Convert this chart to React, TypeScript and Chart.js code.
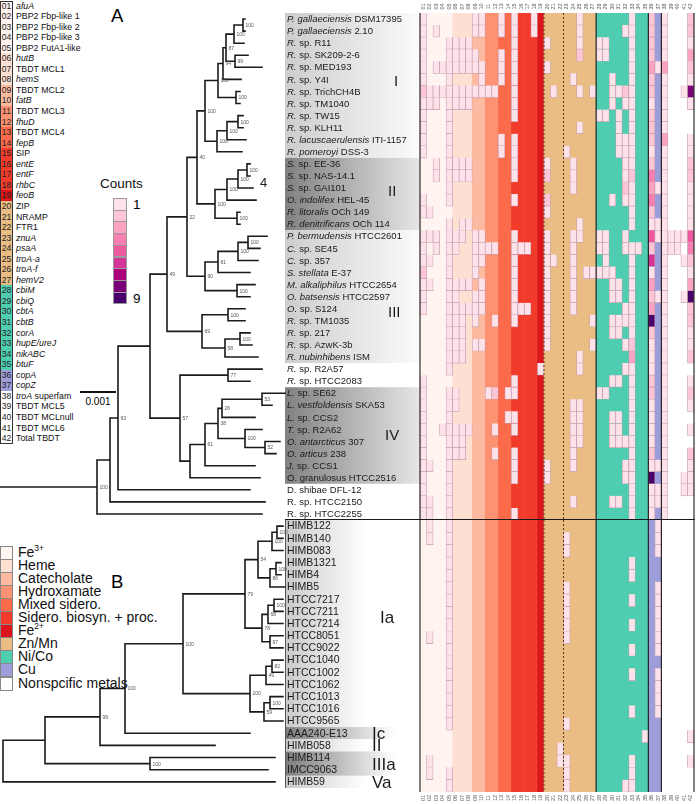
import React, { useEffect, useRef } from 'react';
import { Chart, registerables } from 'chart.js';
Chart.register(...registerables);

const FONT = '"Liberation Sans", Arial, Helvetica, sans-serif';

// ---------------- data ----------------
const GENE_NUMBERS = ['01','02','03','04','05','06','07','08','09','10','11','12','13','14','15','16','17','18','19','20','21','22','23','24','25','26','27','28','29','30','31','32','33','34','35','36','37','38','39','40','41','42'];
const GENE_NAMES = ['*afuA*','PBP2 Fbp-like 1','PBP2 Fbp-like 2','PBP2 Fbp-like 3','PBP2 FutA1-like','*hutB*','TBDT MCL1','*hemS*','TBDT MCL2','*fatB*','TBDT MCL3','*fhuD*','TBDT MCL4','*fepB*','SIP','*entE*','*entF*','*rhbC*','*feoB*','ZIP','NRAMP','FTR1','*znuA*','*psaA*','*troA-a*','*troA-f*','*hemV2*','*cbiM*','*cbiQ*','*cbtA*','*cbtB*','*corA*','*hupE/ureJ*','*nikABC*','*btuF*','*copA*','*copZ*','*troA* superfam','TBDT MCL5','TBDT MCLnull','TBDT MCL6','Total TBDT'];
const GENE_GROUP = [0,0,0,0,0,1,1,1,2,2,3,3,4,4,5,5,5,5,6,7,7,7,7,7,7,7,7,8,8,8,8,8,8,8,8,9,9,10,10,10,10,10];
const GROUP_NAMES = ['Fe^3+','Heme','Catecholate','Hydroxamate','Mixed sidero.','Sidero. biosyn. + proc.','Fe^2+','Zn/Mn','Ni/Co','Cu','Nonspcific metals'];
const GROUP_COLORS = ['#fff4ef','#fee0d2','#fcbba1','#fc9272','#fb6a4a','#f23b2a','#dc141b','#e9bd84','#4ecdb0','#9d9dd9','#ffffff'];
const COUNT_LEVELS = ['1','2','3','4','5','6','7','8','9'];
const COUNT_COLORS = ['#fde2ea','#fcc6d6','#fba3c2','#f77eb0','#f0589f','#d63496','#ae017e','#7a0177','#49006a'];

const STRAINS_A = ['*P. gallaeciensis* DSM17395','*P. gallaeciensis* 2.10','*R.* sp. R11','*R.* sp. SK209-2-6','*R.* sp. MED193','*R.* sp. Y4I','*R.* sp. TrichCH4B','*R.* sp. TM1040','*R.* sp. TW15','*R.* sp. KLH11','*R. lacuscaerulensis* ITI-1157','*R. pomeroyi* DSS-3','*S.* sp. EE-36','*S.* sp. NAS-14.1','*S.* sp. GAI101','*O. indolifex* HEL-45','*R. litoralis* OCh 149','*R. denitrificans* OCh 114','*P. bermudensis* HTCC2601','*C.* sp. SE45','*C.* sp. 357','*S. stellata* E-37','*M. alkaliphilus* HTCC2654','*O. batsensis* HTCC2597','*O.* sp. S124','*R.* sp. TM1035','*R.* sp. 217','*R.* sp. AzwK-3b','*R. nubinhibens* ISM','*R.* sp. R2A57','*R.* sp. HTCC2083','*L.* sp. SE62','*L. vestfoldensis* SKA53','*L.* sp. CCS2','*T.* sp. R2A62','*O. antarcticus* 307','*O. articus* 238','*J.* sp. CCS1','O. granulosus HTCC2516','D. shibae DFL-12','R. sp. HTCC2150','R. sp. HTCC2255'];
const STRAINS_B = ['HIMB122','HIMB140','HIMB083','HIMB1321','HIMB4','HIMB5','HTCC7217','HTCC7211','HTCC7214','HTCC8051','HTCC9022','HTCC1040','HTCC1002','HTCC1062','HTCC1013','HTCC1016','HTCC9565','AAA240-E13','HIMB058','HIMB114','IMCC9063','HIMB59'];

// gene columns present per strain ("col" = 1 copy, "col:n" = n copies, "a-b" = range)
const HEAT_A = [
  '1 9 10 13 15 18 25 33 36:2 38 42:2',
  '1 3 9 10 13 15 18 25 32 33 36:2 38 42:2',
  '1 5-8 15 20 25 28 29 33 36:2 38 42',
  '1 5-9 13 15 25:2 28 29 33 36:2 38 42:3',
  '1 3-10 13 15 20 33 36:3 37 38:3 42:2',
  '1 5 10 13 15 24 30 33 36:2 38 42',
  '1:2 2-12 15 21 25 27 30 31 32:2 33 36:2 38 41 42:8',
  '1 2 3 5-8 15 30 32 33 36 38 42',
  '1 5 15 28 29 31 33 36:2 38',
  '1 5 25 31 33 36:2 38',
  '1 5 13 15 31-33 36:2 38:3 42',
  '1 5 13 15 23 31-33 36 38 42',
  '3 5-8 15 20 24 32 33 36:2 38 42:2',
  '3 5-8 15 20:2 24 32 33:2 36:4 38 42:2',
  '5 24 32:2 33 36:3 37 38 42',
  '1 5 15 20:2 30 32 33 36:4 38 42',
  '1 2 20 33 36:2 38 42',
  '5 7 8 25 33 36 37 38 42',
  '1-3 5-7 9 10 15 20 24 25 28 29 32 36:5 37 38-41 42:5',
  '1 3 5 6 9-12 15-17 20 24 28 29 32-34 36:2 38-40 42:4',
  '1 2 5 9 10 15 20 21 24 29 33 36:6 38 41 42:2',
  '1:2 5 9 15 20 24 26-30 33 36 38 42',
  '1 2 5-8 10 15 20 24 30 31 33 36:3 38 42:3',
  '1 5 6 9 10 15 20 24 30 31 33 36:2 37 38 41 42:9',
  '1 5-10 15-17 20 24 32 33 36:3 38 42:2',
  '5-7 9 12 15 20 27 30-33 36:9 38 42:2',
  '5-7 20 30 31 33 36:2 38 42',
  '5-7 9 10 20 27 32 33:2 36 38 42',
  '5-7 25 33:3 36 38 42:2',
  '5 19 25 32 33 36 38',
  '1 15 30 31 33 36:2 38 42',
  '1 5 6 11 12:2 14 15 28 29 33 36:2 38 42:2',
  '1 5 6 24 25 33 36 38 42',
  '1 5 14 15 24 25 30 31 33 36 38',
  '1 4-8 12 15 24 25 30 31 33 36 38 42',
  '1 5-7 24 25 30-33 36 38',
  '1 5-7 12 15 24 33 36:2 38 42:2',
  '1 2 5 15 20 24 32 33 36 37 38 42',
  '1 5 15 20 32 33 36:9 38 41 42',
  '1 5 33 36 37 38 41 42',
  '1 2 5 24 30 31 33 36 37 38',
  '1 2 5 15 33 36 38',
];
const HEAT_B = [
  '2 5 37','2 5 23 37','5 23 37','5 33','5 33','5 23 37','5 23 33 37','5 23 37','5 23 33 37','2 5 23 37',
  '5 33 37','5','5 33 37','5 37','5 37','5 33 37','5 23','35 42','22','2 22 23 33 42','2 5 23 33','5 23 32 33',
];

// trees in Newick form: tip = row number, value after ':' = node position along the distance axis
const A_I = '((((((1:245,2:245)100:243,3:244)100:234,(4:248,5:262)99:235)87:226,6:241)94:223,(7:240,8:240)100:236)100:218,(((9:243,10:243)100:238,11:246)100:227,12:242)100:217)100:205';
const A_II = '((((13:250,14:250)100:247,15:253)100:238,16:256)100:227,(17:240,18:240)100:237)100:215';
const A_IIIa = '((((19:267,20:260)100:248,21:258)100:238,22:250)81:218,(23:255,24:250)100:237)90:205';
const A_IIIb = '((25:245,26:245)100:228,((27:250,28:252)100:240,29:258)58:225)69:202';
const A_R = '(30:262,31:250)77:228';
const A_IV = '(((((32:285,33:272)53:262,34:255)26:222,(35:262,(36:280,37:276)52:265)100:245)38:218,38:255)61:205,39:260):190';
const TREE_A = `((((((((${A_I},${A_II})40:197,${A_IIIa})22:187,${A_IIIb})49:167,(${A_R},${A_IV})57:180):150,40:250)93:118,41:265):110,42:262)100:97`;
const B_IA1 = '((((1:283,2:283)100:277,3:283)100:272,((4:281,5:281)100:276,6:285)86:270)54:258,(((7:283,8:283)100:274,9:283)68:268,(10:283,11:283)97:270)78:262)79:245';
const B_IA2 = '(((12:283,13:283)82:272,14:283)49:266,((15:283,16:283)100:270,17:283)59:264)100:250';
const TREE_B = `(((((${B_IA1},${B_IA2})100:183,18:250)100:125,19:215)99:100,(20:275,21:268)100:150):45,22:275):3`;

const CLADES_A = [
  { from: 1, to: 12, name: 'I', shade: 'light' },
  { from: 13, to: 18, name: 'II', shade: 'dark' },
  { from: 19, to: 29, name: 'III', shade: 'light' },
  { from: 32, to: 39, name: 'IV', shade: 'dark' },
];
const CLADES_B = [
  { from: 1, to: 17, name: 'Ia', shade: 'light' },
  { from: 18, to: 18, name: 'Ic', shade: 'dark' },
  { from: 19, to: 19, name: 'II', shade: 'light' },
  { from: 20, to: 21, name: 'IIIa', shade: 'dark' },
  { from: 22, to: 22, name: 'Va', shade: 'light' },
];
// placement of clade names (row, left edge)
const CLADE_POS_A = [[6.2, 394], [15.3, 388], [25.3, 388], [35.5, 385]];
const CLADE_POS_B = [[8.6, 380], [18.1, 372], [19.1, 372], [20.6, 372], [22.1, 372]];

// ---------------- helpers ----------------
function parseRow(spec: string): number[] {
  const out = new Array(42).fill(0);
  spec.split(/\s+/).filter(Boolean).forEach((tok) => {
    const [range, cnt] = tok.split(':');
    const [a, b] = range.split('-').map(Number);
    for (let c = a; c <= (b || a); c++) out[c - 1] = cnt ? Number(cnt) : 1;
  });
  return out;
}

function buildTree(s: string) {
  let i = 0;
  const nodes: any[] = [];
  function parse(): any {
    const node: any = { children: [], depth: 0, label: '', tip: 0, y: 0 };
    if (s[i] === '(') {
      i++;
      node.children.push(parse());
      while (s[i] === ',') { i++; node.children.push(parse()); }
      i++;
    }
    let name = '';
    while (i < s.length && ':,()'.indexOf(s[i]) < 0) name += s[i++];
    if (s[i] === ':') {
      i++;
      let num = '';
      while (i < s.length && ',()'.indexOf(s[i]) < 0) num += s[i++];
      node.depth = parseFloat(num);
    }
    if (node.children.length) node.label = name; else node.tip = parseInt(name, 10);
    return node;
  }
  const root = parse();
  function place(n: any) {
    if (!n.children.length) n.y = n.tip;
    else {
      n.children.forEach(place);
      n.y = (n.children[0].y + n.children[n.children.length - 1].y) / 2;
    }
    nodes.push(n);
  }
  place(root);
  return nodes;
}

function treeSegments(nodes: any[]) {
  const pts: any[] = [];
  nodes.forEach((n) => {
    if (!n.children.length) return;
    const f = n.children[0], l = n.children[n.children.length - 1];
    pts.push({ x: n.depth, y: f.y }, { x: n.depth, y: l.y }, { x: NaN, y: NaN });
    n.children.forEach((c: any) => pts.push({ x: n.depth, y: c.y }, { x: c.depth, y: c.y }, { x: NaN, y: NaN }));
  });
  return pts;
}

function drawRich(ctx: CanvasRenderingContext2D, text: string, x: number, y: number, size: number) {
  let cx = x;
  text.split('*').forEach((p, i) => {
    if (!p) return;
    ctx.font = `${i % 2 ? 'italic ' : ''}${size}px ${FONT}`;
    ctx.fillText(p, cx, y);
    cx += ctx.measureText(p).width;
  });
}

function rich(t: string) {
  return t.split('*').map((p, i) => (i % 2 ? <i key={i}>{p}</i> : <span key={i}>{p}</span>));
}

// ---------------- tree + labels chart ----------------
function TreeChart(props: any) {
  const { newick, strains, clades, cladePos, top, height, labelSize, romanSize, boxLeft, lightEnd, darkEnd, lightStops, darkStops, panelLine, extra } = props;
  const ref = useRef<HTMLCanvasElement>(null);
  useEffect(() => {
    const nodes = buildTree(newick);
    const n = strains.length;
    const decor = {
      id: 'treeDecor',
      beforeDatasetsDraw(chart: any) {
        const { ctx, scales: { x, y } } = chart;
        ctx.save();
        clades.forEach((c: any) => {
          const y0 = y.getPixelForValue(c.from - 0.5);
          const y1 = y.getPixelForValue(c.to + 0.5);
          const x0 = x.getPixelForValue(boxLeft);
          const x1 = x.getPixelForValue(420);
          const end = x.getPixelForValue(c.shade === 'dark' ? darkEnd : lightEnd);
          const g = ctx.createLinearGradient(x0, 0, end, 0);
          const st = c.shade === 'dark' ? darkStops : lightStops;
          g.addColorStop(0, st[0]);
          g.addColorStop(1, st[1]);
          ctx.fillStyle = g;
          ctx.fillRect(x0, y0, x1 - x0, y1 - y0);
        });
        if (panelLine) {
          ctx.strokeStyle = '#555';
          ctx.lineWidth = 1;
          const px = Math.round(x.getPixelForValue(boxLeft)) + 0.5;
          ctx.beginPath();
          ctx.moveTo(px, chart.chartArea.top);
          ctx.lineTo(px, y.getPixelForValue(n + 0.5));
          ctx.stroke();
        }
        ctx.restore();
      },
      afterDatasetsDraw(chart: any) {
        const { ctx, scales: { x, y } } = chart;
        ctx.save();
        ctx.fillStyle = '#555';
        ctx.textBaseline = 'middle';
        ctx.font = `5px ${FONT}`;
        nodes.forEach((nd: any) => {
          if (nd.children.length && nd.label) ctx.fillText(nd.label, x.getPixelForValue(nd.depth) + 2.5, y.getPixelForValue(nd.y) + 0.5);
        });
        ctx.fillStyle = '#1a1a1a';
        strains.forEach((s: string, i: number) => drawRich(ctx, s, x.getPixelForValue(boxLeft + 2), y.getPixelForValue(i + 1) + 0.5, labelSize));
        ctx.font = `${romanSize}px ${FONT}`;
        clades.forEach((c: any, i: number) => {
          ctx.fillText(c.name, x.getPixelForValue(cladePos[i][1]), y.getPixelForValue(cladePos[i][0]));
        });
        if (extra) {
          ctx.font = `${extra.size}px ${FONT}`;
          ctx.fillText(extra.text, x.getPixelForValue(extra.x), y.getPixelForValue(extra.row));
        }
        ctx.restore();
      },
    };
    const chart = new Chart(ref.current as HTMLCanvasElement, {
      type: 'scatter',
      data: {
        datasets: [{
          label: 'tree',
          data: treeSegments(nodes),
          showLine: true,
          pointRadius: 0,
          borderColor: '#1a1a1a',
          borderWidth: 1.6,
          borderCapStyle: 'square',
          spanGaps: false,
        } as any],
      },
      options: {
        animation: false,
        responsive: false,
        maintainAspectRatio: false,
        devicePixelRatio: 1,
        events: [],
        layout: { padding: 0 },
        scales: {
          x: { type: 'linear', min: 0, max: 420, display: false },
          y: { type: 'linear', min: 0.5, max: n + 0.5, reverse: true, display: false },
        },
        plugins: { legend: { display: false }, tooltip: { enabled: false } },
      },
      plugins: [decor],
    });
    return () => chart.destroy();
  }, []);
  return <canvas ref={ref} width={420} height={height} style={{ position: 'absolute', left: 0, top, width: 420, height }} />;
}

// ---------------- heatmap chart ----------------
function Heatmap(props: any) {
  const { rows, top, height, padTop, padBottom, labelSide } = props;
  const ref = useRef<HTMLCanvasElement>(null);
  useEffect(() => {
    const grid = rows.map(parseRow);
    const n = grid.length;
    const datasets: any[] = [{
      label: 'category',
      data: GENE_NUMBERS.map(() => [0, n]),
      backgroundColor: GENE_GROUP.map((g) => GROUP_COLORS[g]),
      borderWidth: 0,
      barPercentage: 1.08,
      categoryPercentage: 1,
      order: 100,
    }];
    grid.forEach((row: number[], r: number) => {
      datasets.push({
        label: 'row' + (r + 1),
        data: row.map((v) => (v > 0 ? [r, r + 1] : null)),
        backgroundColor: row.map((v) => (v > 0 ? COUNT_COLORS[v - 1] : 'rgba(0,0,0,0)')),
        borderColor: '#c59cae',
        borderWidth: 0.7,
        barPercentage: 1,
        categoryPercentage: 1,
        order: 1,
      });
    });
    const decor = {
      id: 'heatDecor',
      afterDatasetsDraw(chart: any) {
        const { ctx, chartArea: a, scales: { x } } = chart;
        const w = (a.right - a.left) / 42;
        const edge = (k: number) => x.getPixelForValue(0) - w / 2 + k * w;
        ctx.save();
        ctx.strokeStyle = '#1a1a1a';
        ctx.lineWidth = 1.1;
        [0, 27, 35, 37, 42].forEach((k) => {
          ctx.beginPath();
          ctx.moveTo(edge(k), a.top);
          ctx.lineTo(edge(k), a.bottom);
          ctx.stroke();
        });
        ctx.strokeStyle = '#5a3a1c';
        ctx.lineWidth = 1;
        ctx.setLineDash([2, 2]);
        [19, 22].forEach((k) => {
          ctx.beginPath();
          ctx.moveTo(edge(k), a.top);
          ctx.lineTo(edge(k), a.bottom);
          ctx.stroke();
        });
        ctx.setLineDash([]);
        ctx.fillStyle = '#555';
        ctx.font = `5.5px ${FONT}`;
        ctx.textAlign = 'center';
        ctx.textBaseline = 'middle';
        GENE_NUMBERS.forEach((lab, k) => {
          const cx = x.getPixelForValue(k);
          const cy = labelSide === 'top' ? a.top - 6.5 : a.bottom + 6;
          ctx.save();
          ctx.translate(cx, cy);
          ctx.rotate(-Math.PI / 2);
          ctx.fillText(lab, 0, 0);
          ctx.restore();
        });
        ctx.restore();
      },
    };
    const chart = new Chart(ref.current as HTMLCanvasElement, {
      type: 'bar',
      data: { labels: GENE_NUMBERS, datasets },
      options: {
        animation: false,
        responsive: false,
        maintainAspectRatio: false,
        devicePixelRatio: 1,
        events: [],
        layout: { padding: { top: padTop, bottom: padBottom, left: 1, right: 1 } },
        datasets: { bar: { grouped: false } } as any,
        scales: {
          x: { type: 'category', display: false, offset: true, ticks: { autoSkip: false } },
          y: { type: 'linear', min: 0, max: n, reverse: true, display: false },
        },
        plugins: { legend: { display: false }, tooltip: { enabled: false } },
      },
      plugins: [decor],
    });
    return () => chart.destroy();
  }, []);
  return <canvas ref={ref} width={276} height={height} style={{ position: 'absolute', left: 419, top, width: 276, height }} />;
}

// ---------------- HTML pieces ----------------
const GL_ROW = 10.55;
function GeneList() {
  return (
    <div style={{ position: 'absolute', left: 0, top: 0.5 }}>
      {GENE_NUMBERS.map((num, i) => (
        <div key={num} style={{ position: 'absolute', left: 0, top: i * GL_ROW, height: GL_ROW, width: 120, whiteSpace: 'nowrap' }}>
          <div style={{ position: 'absolute', left: 0, top: 0, width: 13, height: GL_ROW + 0.4, background: GROUP_COLORS[GENE_GROUP[i]], fontSize: 8.6, lineHeight: GL_ROW + 'px', textAlign: 'center', color: '#222' }}>{num}</div>
          <div style={{ position: 'absolute', left: 16, top: 0, fontSize: 8.8, lineHeight: GL_ROW + 'px', color: '#111' }}>{rich(GENE_NAMES[i])}</div>
        </div>
      ))}
      <div style={{ position: 'absolute', left: 0, top: 0, width: 13, height: 42 * GL_ROW, border: '1px solid #333', boxSizing: 'border-box' }} />
    </div>
  );
}

function sup(t: string) {
  const [base, s] = t.split('^');
  return s ? <span>{base}<sup style={{ fontSize: 8.5, lineHeight: 0, verticalAlign: 'super' }}>{s}</sup></span> : <span>{t}</span>;
}

const CL_TOP = 545.5;
const CL_ROW = 13.1;
function CategoryLegend() {
  return (
    <div>
      {GROUP_NAMES.map((name, i) => (
        <React.Fragment key={name}>
          <div style={{ position: 'absolute', left: 0, top: CL_TOP + i * CL_ROW, width: 13, height: CL_ROW + 1, background: GROUP_COLORS[i], border: '1px solid #888', boxSizing: 'border-box' }} />
          <div style={{ position: 'absolute', left: 18, top: CL_TOP + i * CL_ROW, fontSize: 14, lineHeight: CL_ROW + 'px', whiteSpace: 'nowrap', color: '#111' }}>{sup(name)}</div>
        </React.Fragment>
      ))}
    </div>
  );
}

function CountsLegend() {
  const boxTop = 198;
  const boxH = 11.7;
  return (
    <div>
      <div style={{ position: 'absolute', left: 100, top: 175, fontSize: 13.5, lineHeight: '17px', color: '#111' }}>Counts</div>
      {COUNT_LEVELS.map((lv, i) => (
        <div key={lv} style={{ position: 'absolute', left: 113, top: boxTop + i * boxH, width: 14, height: boxH + 1, background: COUNT_COLORS[i], border: '1px solid #999', boxSizing: 'border-box' }} />
      ))}
      <div style={{ position: 'absolute', left: 133, top: boxTop - 2, fontSize: 13.5, lineHeight: '17px' }}>{COUNT_LEVELS[0]}</div>
      <div style={{ position: 'absolute', left: 133, top: boxTop + 8 * boxH - 2, fontSize: 13.5, lineHeight: '17px' }}>{COUNT_LEVELS[8]}</div>
      <div style={{ position: 'absolute', left: 80, top: 391, width: 36, height: 1.5, background: '#111' }} />
      <div style={{ position: 'absolute', left: 70, top: 396, width: 56, textAlign: 'center', fontSize: 10, lineHeight: '12px' }}>0.001</div>
    </div>
  );
}

export default function App() {
  useEffect(() => {
    document.body.style.margin = '0';
  }, []);
  return (
    <div style={{ position: 'fixed', left: 0, top: 0, width: 697, height: 804, background: '#fff', overflow: 'hidden', fontFamily: FONT }}>
      <GeneList />
      <CountsLegend />
      <CategoryLegend />
      <div style={{ position: 'absolute', left: 111, top: 7, fontSize: 18.5, lineHeight: '18.5px' }}>A</div>
      <div style={{ position: 'absolute', left: 111, top: 573, fontSize: 18.5, lineHeight: '18.5px' }}>B</div>
      <TreeChart newick={TREE_A} strains={STRAINS_A} clades={CLADES_A} cladePos={CLADE_POS_A} top={13} height={507}
        labelSize={9.5} romanSize={15} boxLeft={285} lightEnd={420} darkEnd={420}
        lightStops={['#cdcdcd', '#fbfbfb']} darkStops={['#818181', '#e6e6e6']} panelLine={false}
        extra={{ text: '4', row: 14.6, x: 260, size: 13 }} />
      <TreeChart newick={TREE_B} strains={STRAINS_B} clades={CLADES_B} cladePos={CLADE_POS_B} top={520} height={268}
        labelSize={10.5} romanSize={17} boxLeft={285} lightEnd={365} darkEnd={395}
        lightStops={['#cacaca', '#ffffff']} darkStops={['#7d7d7d', '#ffffff']} panelLine={true} extra={null} />
      <Heatmap rows={HEAT_A} top={0} height={520} padTop={13} padBottom={0} labelSide="top" />
      <Heatmap rows={HEAT_B} top={520} height={284} padTop={0} padBottom={12} labelSide="bottom" />
      <div style={{ position: 'absolute', left: 285, top: 519, width: 410, height: 1.2, background: '#1a1a1a' }} />
    </div>
  );
}
